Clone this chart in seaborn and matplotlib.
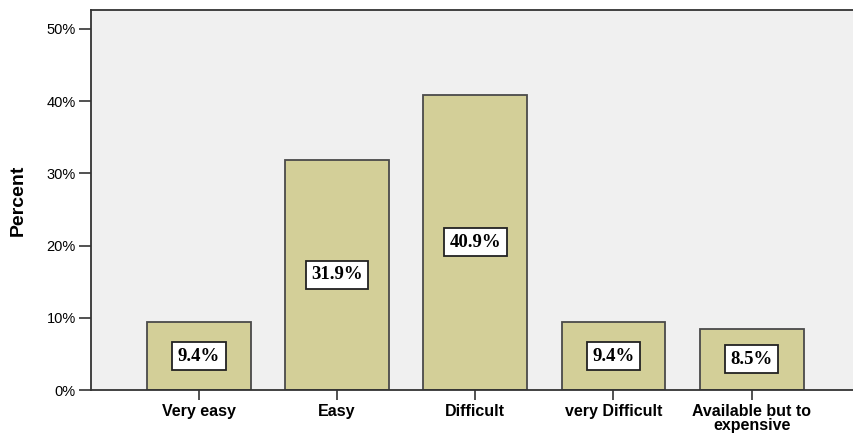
import matplotlib
matplotlib.use("Agg")
import matplotlib.pyplot as plt
import seaborn as sns
import pandas as pd

categories = ["Very easy", "Easy", "Difficult", "very Difficult", "Available but to\nexpensive"]
percents = [9.4, 31.9, 40.9, 9.4, 8.5]
y_ticks = [0, 10, 20, 30, 40, 50]

df = pd.DataFrame({"category": categories, "percent": percents})

sns.set_style("white")
plt.rcParams["font.family"] = ["Liberation Sans", "DejaVu Sans"]
plt.rcParams["text.color"] = "black"

fig = plt.figure(figsize = (8.54, 4.38), dpi = 100)
ax = fig.add_axes([91 / 854, 48 / 438, 1 - 91 / 854, 380 / 438])
ax.set_facecolor("#F0F0F0")

sns.barplot(data = df, x = "category", y = "percent", color = "#D3CF98", saturation = 1,
            edgecolor = "#4A4A4A", linewidth = 1.3, width = 0.75, ax = ax)

# value boxes in the middle of each bar
for i, v in enumerate(percents):
    ax.text(i, v / 2, f"{v}%", ha = "center", va = "center", fontsize = 13.5, fontweight = "bold",
            color = "black", family = ["Liberation Serif", "DejaVu Serif"],
            bbox = dict(boxstyle = "square,pad=0.3", facecolor = "white", edgecolor = "#222222", linewidth = 1.3))

ax.set_xlim(-0.78, 4.74)
ax.set_ylim(0, 52.6)
ax.set_yticks(y_ticks)
ax.set_yticklabels([f"{t}%" for t in y_ticks], fontsize = 10.5, color = "black")
ax.set_xticks(range(len(categories)))
ax.set_xticklabels(categories, fontsize = 11.5, fontweight = "bold", linespacing = 0.9, color = "black")
ax.tick_params(axis = "y", direction = "out", length = 9, width = 1.2, color = "#333333", pad = 2, left = True)
ax.tick_params(axis = "x", direction = "out", length = 7, width = 1.2, color = "#333333", pad = 3, bottom = True)

ax.set_xlabel("")
ax.set_ylabel("Percent", fontsize = 14, fontweight = "bold", labelpad = 14, color = "black")

for side in ["left", "bottom", "top"]:
    ax.spines[side].set_color("#333333")
    ax.spines[side].set_linewidth(1.3)
ax.spines["right"].set_visible(False)

fig.savefig("out.png", dpi = 100, facecolor = "white")
